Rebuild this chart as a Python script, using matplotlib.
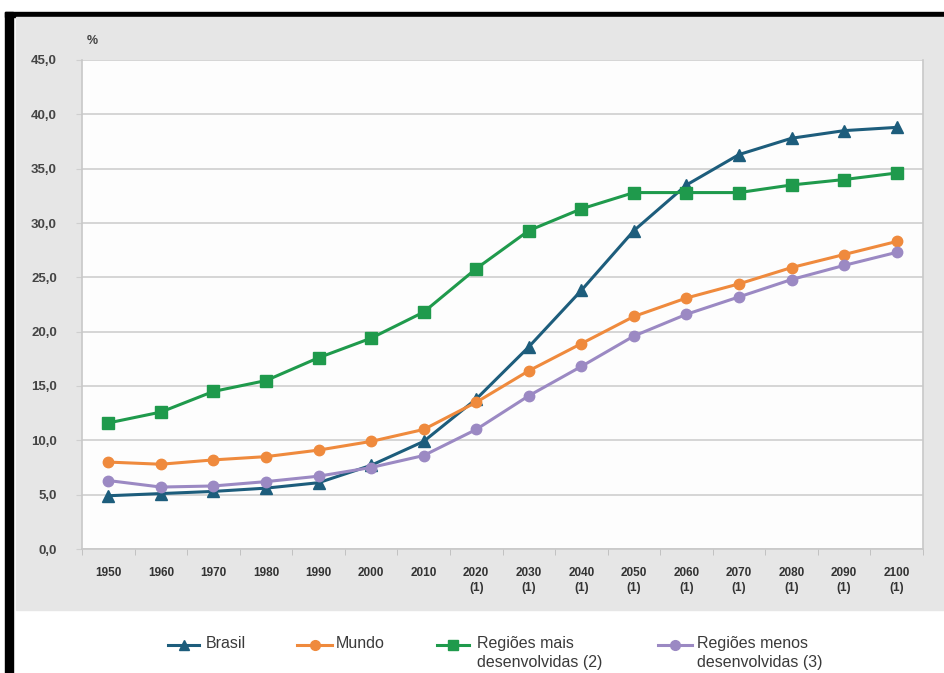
import matplotlib.pyplot as plt
from matplotlib.patches import Rectangle
from matplotlib.lines import Line2D

plt.rcParams['font.family'] = ['Liberation Sans Narrow', 'Liberation Sans', 'DejaVu Sans']

years = ["1950", "1960", "1970", "1980", "1990", "2000", "2010",
         "2020\n(1)", "2030\n(1)", "2040\n(1)", "2050\n(1)", "2060\n(1)",
         "2070\n(1)", "2080\n(1)", "2090\n(1)", "2100\n(1)"]

brasil = [4.9, 5.1, 5.3, 5.6, 6.1, 7.7, 9.9, 13.8, 18.6, 23.8, 29.3, 33.5, 36.3, 37.8, 38.5, 38.8]
mundo = [8.0, 7.8, 8.2, 8.5, 9.1, 9.9, 11.0, 13.5, 16.4, 18.9, 21.4, 23.1, 24.4, 25.9, 27.1, 28.3]
mais_desenv = [11.6, 12.6, 14.5, 15.5, 17.6, 19.4, 21.8, 25.8, 29.3, 31.3, 32.8, 32.8, 32.8, 33.5, 34.0, 34.6]
menos_desenv = [6.3, 5.7, 5.8, 6.2, 6.7, 7.5, 8.6, 11.0, 14.1, 16.8, 19.6, 21.6, 23.2, 24.8, 26.1, 27.3]

series = [
    ("Brasil", brasil, "#1d5d7c", "^"),
    ("Mundo", mundo, "#ef8a3d", "o"),
    ("Regiões mais\ndesenvolvidas (2)", mais_desenv, "#1f9a4c", "s"),
    ("Regiões menos\ndesenvolvidas (3)", menos_desenv, "#9b89c3", "o"),
]

W, H = 944, 673
fig = plt.figure(figsize=(W / 100, H / 100), dpi=100)


def fx(px):
    return px / W


def fy(py):
    return 1 - py / H


# frame and grey panel
fig.add_artist(Rectangle((fx(5), 0), fx(8), fy(12), color="black",
                         transform=fig.transFigure, zorder=0))
fig.add_artist(Rectangle((fx(5), fy(17)), 1, fy(12) - fy(17), color="black",
                         transform=fig.transFigure, zorder=0))
fig.add_artist(Rectangle((fx(16), fy(610)), 1, fy(17) - fy(610), color="#e6e6e6",
                         transform=fig.transFigure, zorder=0))

ax = fig.add_axes([fx(82), fy(549), fx(923) - fx(82), fy(60) - fy(549)])
ax.set_facecolor("#fdfdfd")
x = list(range(len(years)))

for name, vals, color, marker in series:
    ax.plot(x, vals, color=color, lw=2.2, marker=marker, ms=8 if marker != "o" else 7.5,
            markeredgecolor=color, zorder=3)

ax.set_xlim(-0.5, 15.5)
ax.set_ylim(0, 45)
ax.set_yticks(range(0, 46, 5))
ax.set_yticklabels([f"{v},0" for v in range(0, 46, 5)])
ax.yaxis.grid(True, color="#cfcfcf", lw=1.2)
ax.set_axisbelow(True)
ax.set_xticks(x)
ax.set_xticklabels(years, linespacing=1.35)
ax.set_xticks([i - 0.5 for i in range(len(years) + 1)], minor=True)
ax.tick_params(axis="x", which="major", length=0, pad=13, labelsize=8.5, colors="#333333")
ax.tick_params(axis="x", which="minor", length=4, color="#bbbbbb")
ax.tick_params(axis="y", length=4, color="#cfcfcf", labelsize=9.5, labelcolor="#444444", pad=14)
for lbl in ax.get_xticklabels() + ax.get_yticklabels():
    lbl.set_fontweight("bold")
for side in ["top", "right", "left", "bottom"]:
    ax.spines[side].set_color("#c8c8c8")
    ax.spines[side].set_linewidth(1.2)
ax.spines["top"].set_visible(False)

fig.text(fx(87), fy(41), "%", fontsize=9, color="#444444", fontweight="bold", va="center")

# legend drawn by hand so the handle sits on the first text line
leg_pos = [(168, 199, 206), (297, 332, 336), (437, 469, 477), (658, 692, 697)]
for (name, vals, color, marker), (x0, x1, xt) in zip(series, leg_pos):
    yl = fy(645)
    fig.add_artist(Line2D([fx(x0), fx((x0 + x1) / 2), fx(x1)], [yl, yl, yl], color=color, lw=2.2,
                          marker=marker, markevery=[1], ms=7, transform=fig.transFigure))
    fig.text(fx(xt), fy(636), name, fontsize=11.5, color="#3a3a3a", va="top", ha="left",
             linespacing=1.3)

fig.savefig("out.png", dpi=100)
